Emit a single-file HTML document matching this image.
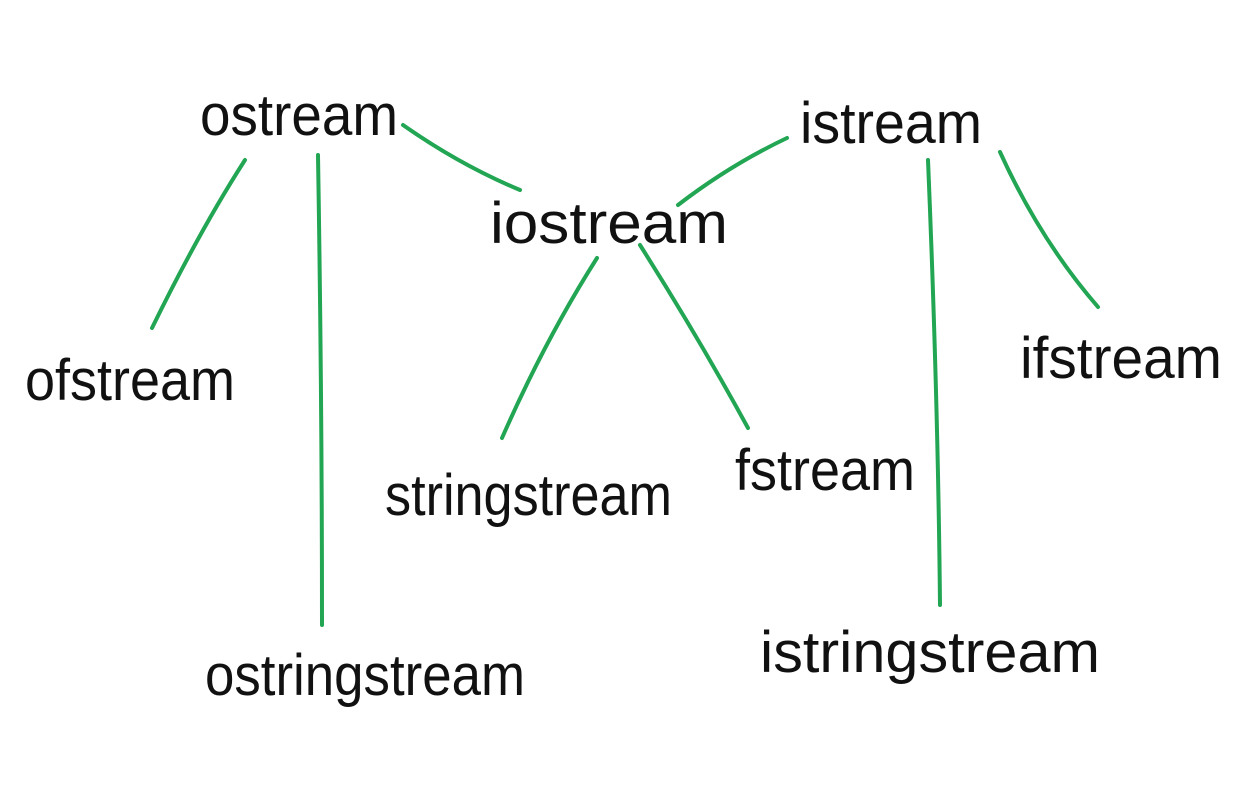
<!DOCTYPE html>
<html>
<head>
<meta charset="utf-8">
<style>
html,body{margin:0;padding:0;background:#fff;}
svg{display:block;}
text{font-family:"Liberation Sans",sans-serif;fill:#111;font-size:58px;}
</style>
</head>
<body>
<svg width="1248" height="798" viewBox="0 0 1248 798" xmlns="http://www.w3.org/2000/svg">
<g fill="none" stroke="#22a653" stroke-width="4" stroke-linecap="round">
<path d="M245 160 Q200 230 152 328"/>
<path d="M318 155 Q322 400 322 625"/>
<path d="M403 125 Q460 165 520 190"/>
<path d="M787 138 Q730 165 678 205"/>
<path d="M597 258 Q545 340 502 438"/>
<path d="M640 245 Q700 340 748 428"/>
<path d="M928 160 Q938 400 940 605"/>
<path d="M1000 152 Q1040 240 1098 307"/>
</g>
<text x="200" y="135" textLength="198" lengthAdjust="spacingAndGlyphs">ostream</text>
<text x="800" y="143" textLength="182" lengthAdjust="spacingAndGlyphs">istream</text>
<text x="490" y="243" textLength="238" lengthAdjust="spacingAndGlyphs">iostream</text>
<text x="25" y="400" textLength="210" lengthAdjust="spacingAndGlyphs">ofstream</text>
<text x="385" y="515" textLength="287" lengthAdjust="spacingAndGlyphs">stringstream</text>
<text x="735" y="490" textLength="180" lengthAdjust="spacingAndGlyphs">fstream</text>
<text x="1020" y="378" textLength="202" lengthAdjust="spacingAndGlyphs">ifstream</text>
<text x="205" y="695" textLength="320" lengthAdjust="spacingAndGlyphs">ostringstream</text>
<text x="760" y="672" textLength="340" lengthAdjust="spacingAndGlyphs">istringstream</text>
</svg>
</body>
</html>
